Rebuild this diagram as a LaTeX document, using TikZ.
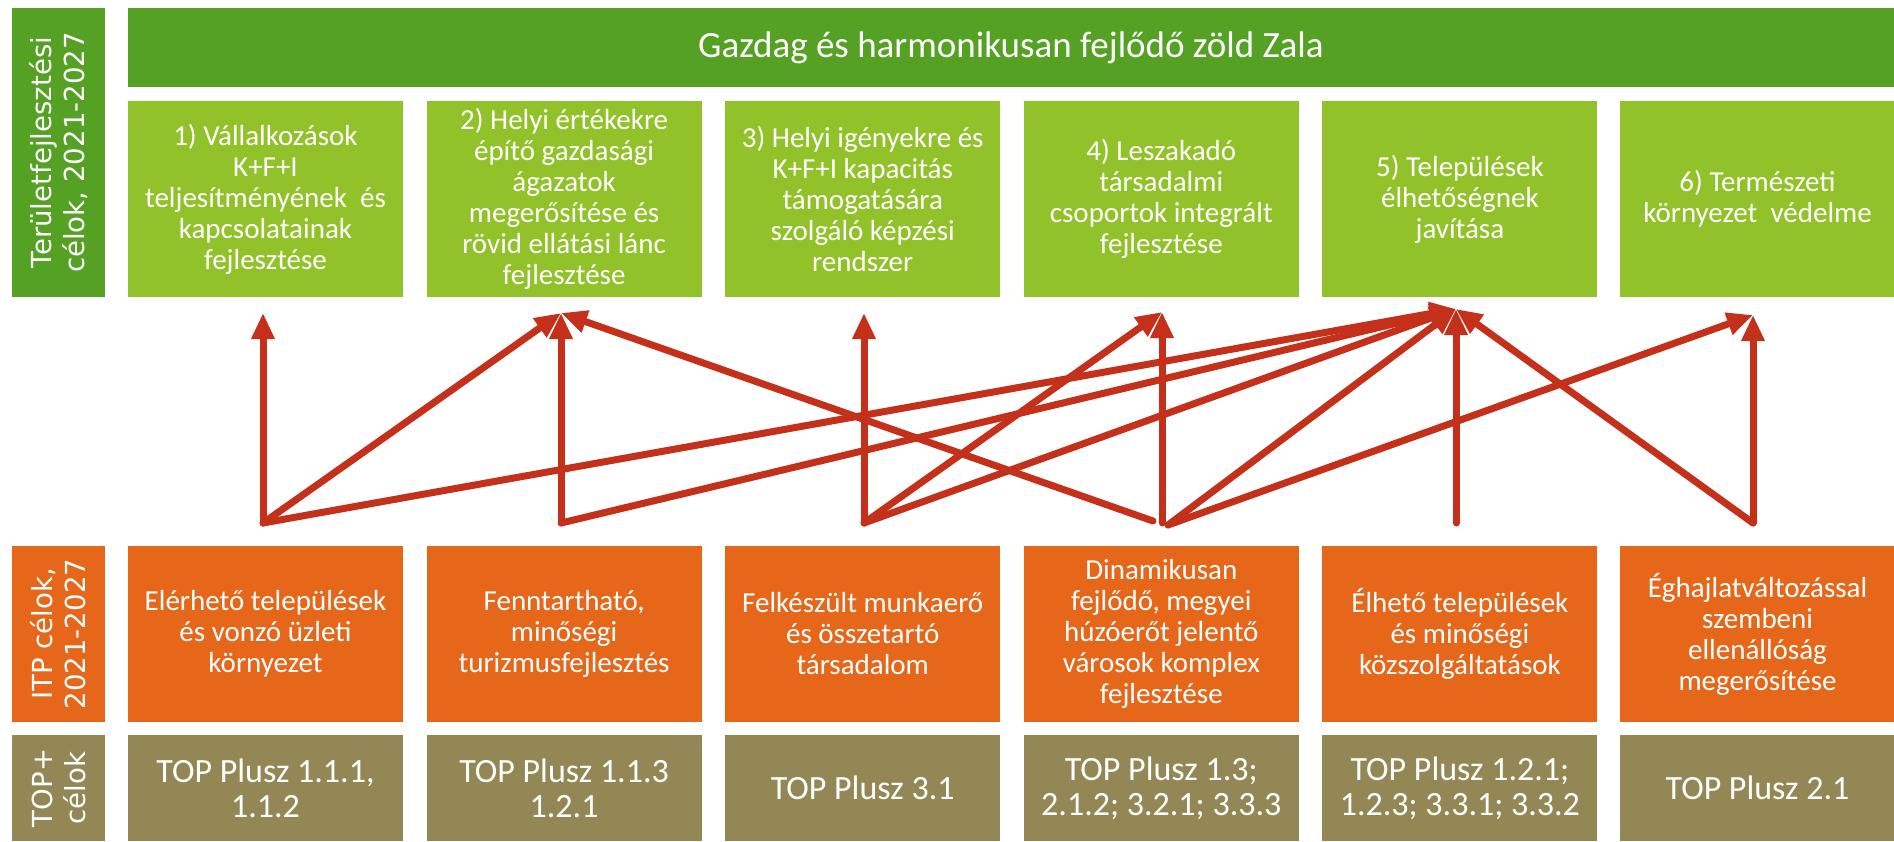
\documentclass[tikz,border=0pt]{standalone}
\usepackage{fontspec}
\setmainfont{Carlito}
\newfontfamily\sidefont{DejaVu Sans}
\usetikzlibrary{arrows.meta}
\definecolor{zoldsotet}{RGB}{84,161,35}
\definecolor{zoldvil}{RGB}{146,194,41}
\definecolor{narancs}{RGB}{230,103,26}
\definecolor{olajzold}{RGB}{147,136,85}
\definecolor{nyilpiros}{RGB}{197,48,27}
\tikzset{
  cel/.style={fill=#1, text=white, inner sep=0pt, align=center},
  celbox/.style={cel=zoldvil, minimum width=137.5pt, minimum height=98pt, font=\fontsize{14.5}{15.5}\selectfont},
  itpbox/.style={cel=narancs, minimum width=137.5pt, minimum height=88pt, font=\fontsize{14.5}{15.5}\selectfont},
  topbox/.style={cel=olajzold, minimum width=137.5pt, minimum height=53pt, font=\fontsize{17}{17.5}\selectfont},
  sidebox/.style={cel=#1, rotate=90, minimum height=46.5pt, font=\sidefont\fontsize{13.8}{16.5}\selectfont},
  nyil/.style={draw=nyilpiros, line width=3.5pt, line cap=round, -{Triangle[length=13pt,width=11pt]}}
}
\begin{document}
\begin{tikzpicture}[x=0.5pt,y=-0.5pt]
\useasboundingbox (0,0) rectangle (1894,841);
% bal oldali feliratok
\node[sidebox=zoldsotet, minimum width=144.5pt] (s1) at (58.5,152.5) {Területfejlesztési\\célok, 2021-2027};
\node[sidebox=narancs, minimum width=88pt] (s2) at (58.5,634) {ITP célok,\\2021-2027};
\node[sidebox=olajzold, minimum width=53pt] (s3) at (58.5,788) {TOP+\\célok};
% cim
\node[cel=zoldsotet, minimum width=883pt, minimum height=39.5pt, font=\fontsize{18.5}{20}\selectfont] (cim) at (1011,47.5) {Gazdag és harmonikusan fejlődő zöld Zala};
% teruletfejlesztesi celok
\node[celbox] (c1) at (265.5,199) {1) Vállalkozások\\K+F+I\\teljesítményének\ \ és\\kapcsolatainak\\fejlesztése};
\node[celbox] (c2) at (564.1,199) {2) Helyi értékekre\\építő gazdasági\\ágazatok\\megerősítése és\\rövid ellátási lánc\\fejlesztése};
\node[celbox] (c3) at (862.7,199) {3) Helyi igényekre és\\K+F+I kapacitás\\támogatására\\szolgáló képzési\\rendszer};
\node[celbox] (c4) at (1161.3,199) {4) Leszakadó\\társadalmi\\csoportok integrált\\fejlesztése};
\node[celbox] (c5) at (1459.9,199) {5) Települések\\élhetőségnek\\javítása};
\node[celbox] (c6) at (1757.5,199) {6) Természeti\\környezet\ \ védelme};
% ITP celok
\node[itpbox] (i1) at (265.5,634) {Elérhető települések\\és vonzó üzleti\\környezet};
\node[itpbox] (i2) at (564.1,634) {Fenntartható,\\minőségi\\turizmusfejlesztés};
\node[itpbox] (i3) at (862.7,634) {Felkészült munkaerő\\és összetartó\\társadalom};
\node[itpbox] (i4) at (1161.3,634) {Dinamikusan\\fejlődő, megyei\\húzóerőt jelentő\\városok komplex\\fejlesztése};
\node[itpbox] (i5) at (1459.9,634) {Élhető települések\\és minőségi\\közszolgáltatások};
\node[itpbox] (i6) at (1757.5,634) {Éghajlatváltozással\\szembeni\\ellenállóság\\megerősítése};
% TOP+ celok
\node[topbox] (p1) at (265.5,788) {TOP Plusz 1.1.1,\\1.1.2};
\node[topbox] (p2) at (564.1,788) {TOP Plusz 1.1.3\\1.2.1};
\node[topbox] (p3) at (862.7,788) {TOP Plusz 3.1};
\node[topbox] (p4) at (1161.3,788) {TOP Plusz 1.3;\\2.1.2; 3.2.1; 3.3.3};
\node[topbox] (p5) at (1459.9,788) {TOP Plusz 1.2.1;\\1.2.3; 3.3.1; 3.3.2};
\node[topbox] (p6) at (1757.5,788) {TOP Plusz 2.1};
% nyilak vegpontjai
\coordinate (t1) at (263,313);
\coordinate (t2) at (561,313);
\coordinate (t3) at (864,313);
\coordinate (t4) at (1162,312);
\coordinate (t5) at (1456,309);
\coordinate (t6) at (1753,315);
\coordinate (b1) at (263,523);
\coordinate (b2) at (561,523);
\coordinate (b3) at (864,523);
\coordinate (b4a) at (1153,521);
\coordinate (b4) at (1162,523);
\coordinate (b4b) at (1168,525);
\coordinate (b5) at (1456,523);
\coordinate (b6) at (1753,523);
% nyilak
\draw[nyil] (b1) -- (t1);
\draw[nyil] (b1) -- (t2);
\draw[nyil] (b1) -- (t5);
\draw[nyil] (b2) -- (t2);
\draw[nyil] (b2) -- (t5);
\draw[nyil] (b3) -- (t3);
\draw[nyil] (b3) -- (t4);
\draw[nyil] (b3) -- (t5);
\draw[nyil] (b4a) -- (t2);
\draw[nyil] (b4) -- (t4);
\draw[nyil] (b4b) -- (t5);
\draw[nyil] (b4b) -- (t6);
\draw[nyil] (b5) -- (t5);
\draw[nyil] (b6) -- (t5);
\draw[nyil] (b6) -- (t6);
\end{tikzpicture}
\end{document}
